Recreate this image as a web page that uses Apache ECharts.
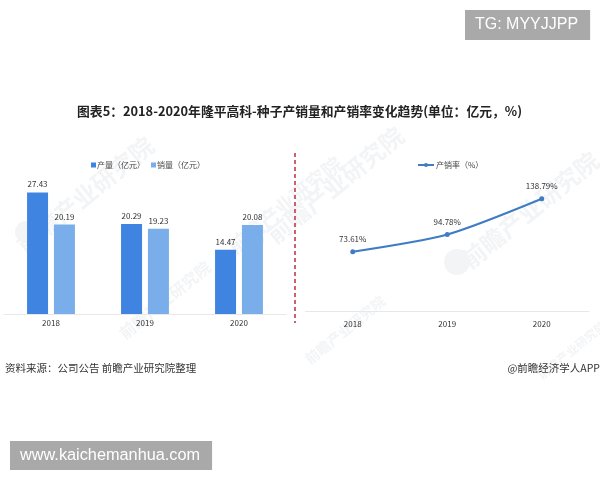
<!DOCTYPE html>
<html><head><meta charset="utf-8">
<style>html,body{margin:0;padding:0;background:#fff}#c{width:600px;height:480px}</style>
<script src="https://cdn.jsdelivr.net/npm/echarts@6/dist/echarts.min.js"></script>
</head><body><div id="c"></div>
<script>
const categories = ['2018','2019','2020'];
const output = [27.43,20.29,14.47];
const sales = [20.19,19.23,20.08];
const rate = [73.61,94.78,138.79];
const FONT = '"Noto Sans CJK SC","Noto Sans",sans-serif';
const WM = '#f3f4f6';
const wm = (x,y,size,rot) => ({type:'text',x,y,rotation:rot,z:0,silent:true,
  style:{text:'前瞻产业研究院',font:`bold ${size}px ${FONT}`,fill:WM,textAlign:'center',textVerticalAlign:'middle'}});
const circle = (x,y,r) => ({type:'circle',shape:{cx:x,cy:y,r},z:0,silent:true,style:{fill:WM}});
const axisBase = {type:'category',data:categories,
  axisLine:{lineStyle:{color:'#e6e8ea',width:1}},axisTick:{show:false},
  axisLabel:{color:'#333',fontSize:8,fontFamily:FONT}};
const valBase = {type:'value',min:0,show:false,splitLine:{show:false}};
const lbl = {show:true,position:'top',distance:4,color:'#333',fontSize:8,fontFamily:FONT};
const chart = echarts.init(document.getElementById('c'),null,{renderer:'canvas'});
chart.setOption({
  animation:false,backgroundColor:'#fff',
  title:[
    {text:'图表5：2018-2020年隆平高科-种子产销量和产销率变化趋势(单位：亿元，%)',left:299.5,top:105,textAlign:'center',padding:0,
      textStyle:{fontFamily:FONT,fontSize:12.8,fontWeight:'bold',color:'#222'}},
    {text:'TG: MYYJJPP',left:465,top:10,padding:[7,12,7,10],backgroundColor:'#a9a9a9',
      textStyle:{fontFamily:'"Liberation Sans",sans-serif',fontSize:16,fontWeight:'normal',color:'#fff',lineHeight:16}},
    {text:'www.kaichemanhua.com',left:10,top:441,padding:[7,12,6,10],backgroundColor:'#a9a9a9',
      textStyle:{fontFamily:'"Liberation Sans",sans-serif',fontSize:16.3,fontWeight:'normal',color:'#fff',lineHeight:16}},
    {text:'资料来源：公司公告 前瞻产业研究院整理',left:5,top:362.5,padding:0,
      textStyle:{fontFamily:FONT,fontSize:10.5,fontWeight:'normal',color:'#333'}},
    {text:'@前瞻经济学人APP',right:0,top:362.5,padding:0,
      textStyle:{fontFamily:FONT,fontSize:10.5,fontWeight:'normal',color:'#333'}}
  ],
  legend:[
    {data:['产量（亿元）','销量（亿元）'],icon:'rect',left:86,top:156,itemWidth:5,itemHeight:5,itemGap:6,
      textStyle:{fontFamily:FONT,fontSize:8,color:'#444',padding:[0,0,0,-4]}},
    {data:['产销率（%）'],left:412,top:156,itemWidth:16,itemHeight:5,
      textStyle:{fontFamily:FONT,fontSize:8,color:'#444',padding:[0,0,0,-3]}}
  ],
  grid:[
    {left:4,top:181,width:282,height:133},
    {left:305.5,top:181.5,width:283.5,height:130}
  ],
  xAxis:[
    {...axisBase,gridIndex:0,axisLabel:{...axisBase.axisLabel,margin:5}},
    {...axisBase,gridIndex:1,axisLabel:{...axisBase.axisLabel,margin:8}}
  ],
  yAxis:[{...valBase,gridIndex:0,max:30},{...valBase,gridIndex:1,max:160}],
  series:[
    {name:'产量（亿元）',type:'bar',xAxisIndex:0,yAxisIndex:0,data:output,barWidth:21,barGap:'28%',z:2,
      itemStyle:{color:'#3e84e0'},label:lbl},
    {name:'销量（亿元）',type:'bar',xAxisIndex:0,yAxisIndex:0,data:sales,barWidth:21,z:2,
      itemStyle:{color:'#7aaeea'},label:lbl},
    {name:'产销率（%）',type:'line',xAxisIndex:1,yAxisIndex:1,data:rate,smooth:0.25,symbol:'circle',symbolSize:5,z:2,
      lineStyle:{color:'#3f7cc4',width:2},itemStyle:{color:'#3f7cc4'},
      label:{...lbl,distance:6,formatter:p=>p.value.toFixed(2)+'%'}}
  ],
  graphic:{elements:[
    wm(85,195,24,0.68),wm(165,300,16,0.68),wm(285,205,20,0.68),
    wm(335,185,24,0.68),wm(530,210,24,0.68),wm(345,330,14,0.68),
    wm(572,350,12,0.68),
    circle(26,232,11),circle(253,240,11),circle(457,262,13),
    {type:'line',z:1,silent:true,shape:{x1:295,y1:153,x2:295,y2:323},
      style:{stroke:'#b5202e',lineWidth:1.4,lineDash:[4,3]}}
  ]}
});
</script></body></html>
